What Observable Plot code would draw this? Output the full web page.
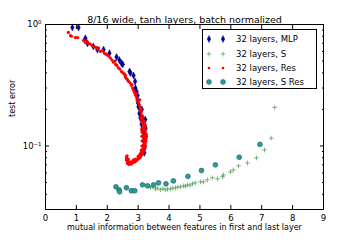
<!DOCTYPE html>
<html><head><meta charset="utf-8">
<script src="https://cdn.jsdelivr.net/npm/d3@7"></script>
<script src="https://cdn.jsdelivr.net/npm/@observablehq/plot@0.6"></script>
<style>
body{margin:0;background:#fff;font-family:"DejaVu Sans",sans-serif;}
#wrap{position:relative;width:360px;height:240px;}
#legend{position:absolute;left:202px;top:29px;width:115px;height:60px;border:1px solid #000;background:#fff;font-size:8.5px;box-sizing:border-box;}
.row{position:absolute;left:0;height:12px;display:flex;align-items:center;}
.row svg{display:block}
.row span{margin-left:4px;white-space:nowrap;color:#000}
</style>
</head><body><div id="wrap"><div id="chart"></div><div id="legend"></div></div>
<script>
const title = "8/16 wide, tanh layers, batch normalized";
const xLabel = "mutual information between features in first and last layer";
const yLabel = "test error";
const seriesNames = ["32 layers, MLP", "32 layers, S", "32 layers, Res", "32 layers, S Res"];
const xTicks = [0, 1, 2, 3, 4, 5, 6, 7, 8, 9];
const yMajor = [0.1, 1];
const yMinor = [0.03, 0.04, 0.05, 0.06, 0.07, 0.08, 0.09, 0.2, 0.3, 0.4, 0.5, 0.6, 0.7, 0.8, 0.9];
const yTickLabels = ["10⁻¹", "10⁰"];

const mlpX = [0.87,1.07,1.29,1.36,1.55,1.68,1.88,2.07,2.30,2.39,2.46,2.50,2.72,2.75,2.85,2.90,2.91,2.95,2.98,2.98,3.01,3.04,3.07,3.11,3.14,3.17,3.20,3.20,3.20,3.12,3.16,3.19,3.22,3.22,3.00,3.08,3.24,3.25,3.23];
const mlpY = [0.945,0.945,0.77,0.70,0.66,0.62,0.62,0.58,0.54,0.51,0.48,0.47,0.41,0.40,0.38,0.34,0.30,0.28,0.26,0.238,0.21,0.186,0.17,0.151,0.135,0.121,0.108,0.096,0.088,0.2,0.16,0.13,0.115,0.1,0.225,0.18,0.14,0.12,0.165];

const sX = [3.35,3.40,3.48,3.56,3.62,3.72,3.80,3.88,3.95,4.05,4.12,4.21,4.28,4.37,4.47,4.53,4.60,4.68,4.76,4.85,5.02,5.11,5.24,5.40,5.57,5.73,5.76,5.99,6.08,6.25,6.54,6.83,7.09,7.31,7.42];
const sY = [0.047,0.0453,0.046,0.0444,0.045,0.0436,0.0445,0.0436,0.0442,0.0444,0.045,0.0453,0.0458,0.0461,0.047,0.0466,0.0479,0.0475,0.0488,0.0497,0.0507,0.0507,0.0526,0.0547,0.0537,0.0557,0.0578,0.0612,0.0636,0.0686,0.0726,0.0798,0.0927,0.116,0.208];

const resX = [0.74,0.81,0.84,0.97,1.04,1.23,1.29,1.39,1.52,1.62,1.72,1.78,1.91,2.01,2.10,2.20,2.27,2.36,2.46,2.56,2.62,2.69,2.78,2.85,2.91,2.98,3.04,3.07,3.11,3.14,3.17,3.17,3.17,3.17,3.17,3.14,3.11,3.04,2.98,2.91,2.82,2.75,2.69,2.62,2.62,
 1.33,1.45,1.57,1.85,1.96,2.05,2.15,2.31,2.41,2.51,2.59,2.66,2.74,2.82,2.88,2.95,3.01,3.06,3.09,3.13,3.16,3.20,3.22,3.21,3.22,3.20,3.18,3.13,3.08,3.02,2.95,2.87,2.78,2.71,2.66,2.63,2.65,2.70,2.85,3.00,3.10,3.12,3.13,3.12,3.13,3.12,3.10,3.08,3.23,3.24,3.25,3.24,2.93,2.80,2.58,2.25,1.68,
 3.05,3.10,3.15,3.19,3.21,3.23,3.26,3.25,3.22,3.19,3.15,3.09,3.03,2.96,2.89,2.81,2.73,2.67,2.64,2.68,2.76,2.84,2.92,3.06,3.14,3.18,3.20];
const resY = [0.86,0.81,0.80,0.78,0.78,0.74,0.71,0.70,0.67,0.65,0.64,0.60,0.58,0.56,0.53,0.49,0.47,0.44,0.41,0.39,0.36,0.34,0.316,0.288,0.262,0.238,0.217,0.197,0.18,0.163,0.149,0.135,0.123,0.112,0.102,0.093,0.088,0.083,0.078,0.075,0.0726,0.0726,0.074,0.0767,0.081,
 0.73,0.69,0.66,0.61,0.57,0.55,0.51,0.46,0.43,0.40,0.38,0.35,0.33,0.30,0.275,0.25,0.228,0.207,0.19,0.172,0.156,0.142,0.13,0.118,0.107,0.097,0.09,0.085,0.081,0.079,0.076,0.074,0.071,0.072,0.075,0.079,0.072,0.0705,0.077,0.082,0.092,0.1,0.11,0.12,0.13,0.14,0.155,0.17,0.15,0.12,0.11,0.1,0.27,0.32,0.37,0.5,0.63,
 0.24,0.2,0.175,0.16,0.145,0.135,0.125,0.115,0.105,0.095,0.088,0.084,0.08,0.077,0.074,0.073,0.073,0.077,0.083,0.078,0.074,0.075,0.078,0.086,0.094,0.102,0.112];

const sresX = [2.28,2.38,2.40,2.62,2.78,2.89,3.14,3.30,3.50,3.66,3.90,4.14,4.61,5.05,5.50,6.27,6.94];
const sresY = [0.0461,0.0436,0.042,0.0453,0.0428,0.0428,0.0479,0.047,0.0479,0.0497,0.0488,0.0516,0.0562,0.0628,0.0699,0.0808,0.103];

const colors = {mlp: "#0000b0", s: "#5aa55a", res: "#ff0000", sres: "#2a9d9d"};

const toRows = (xs, ys) => xs.map((x, i) => ({x, y: ys[i]}));
const mlp = toRows(mlpX, mlpY), s = toRows(sX, sY), res = toRows(resX, resY), sres = toRows(sresX, sresY);

const thinDiamond = {draw(c, size) { const r = Math.sqrt(size / Math.PI); c.moveTo(0, -r); c.lineTo(r * 0.5, 0); c.lineTo(0, r); c.lineTo(-r * 0.5, 0); c.closePath(); }};
const plusSym = {draw(c, size) { const r = Math.sqrt(size / Math.PI); c.moveTo(-r, 0); c.lineTo(r, 0); c.moveTo(0, -r); c.lineTo(0, r); }};

const chart = Plot.plot({
  width: 360, height: 240,
  marginTop: 24, marginBottom: 31, marginLeft: 45, marginRight: 37,
  style: {fontFamily: "DejaVu Sans", fontSize: "8px", color: "#000", background: "#fff"},
  x: {domain: [0, 9], label: null},
  y: {type: "log", domain: [0.03, 1], label: null},
  marks: [
    Plot.dot(s, {x: "x", y: "y", symbol: plusSym, r: 2.4, stroke: colors.s, strokeWidth: 0.8, fill: "none"}),
    Plot.dot(sres, {x: "x", y: "y", r: 2.4, fill: colors.sres, stroke: "#145555", strokeWidth: 0.6}),
    Plot.dot(mlp, {x: "x", y: "y", symbol: thinDiamond, r: 3.6, fill: colors.mlp, stroke: "#000040", strokeWidth: 0.4}),
    Plot.dot(res, {x: "x", y: "y", r: 1.6, fill: colors.res, stroke: "none"}),
    Plot.frame({stroke: "#000", strokeWidth: 1}),
    Plot.axisX(xTicks, {anchor: "bottom", tickSize: 0, tickPadding: 5, fontSize: 8.5, label: null}),
    Plot.axisX(xTicks, {anchor: "bottom", tickSize: -4, tickFormat: () => "", label: null}),
    Plot.axisX(xTicks, {anchor: "top", tickSize: -4, tickFormat: () => "", label: null}),
    Plot.axisY(yMajor, {anchor: "left", tickSize: 0, tickPadding: 4, fontSize: 8.5, tickFormat: (d) => yTickLabels[yMajor.indexOf(d)], label: null}),
    Plot.axisY(yMajor, {anchor: "left", tickSize: -4, tickFormat: () => "", label: null}),
    Plot.axisY(yMajor, {anchor: "right", tickSize: -4, tickFormat: () => "", label: null}),
    Plot.axisY(yMinor, {anchor: "left", tickSize: -2, tickFormat: () => "", label: null}),
    Plot.axisY(yMinor, {anchor: "right", tickSize: -2, tickFormat: () => "", label: null}),
    Plot.text([title], {frameAnchor: "top", dy: -8, fontSize: 9.5, text: (d) => d}),
    Plot.text([xLabel], {frameAnchor: "bottom", dy: 20, fontSize: 8, text: (d) => d}),
    Plot.text([yLabel], {frameAnchor: "left", dx: -33, rotate: -90, fontSize: 8, text: (d) => d})
  ]
});
document.getElementById("chart").appendChild(chart);

// legend
const legendMarkers = [
  `<path d="M0,-3.6L1.8,0L0,3.6L-1.8,0Z" fill="${colors.mlp}" stroke="#000040" stroke-width="0.4"/>`,
  `<path d="M-2.4,0L2.4,0M0,-2.4L0,2.4" stroke="${colors.s}" stroke-width="0.8" fill="none"/>`,
  `<circle r="1.3" fill="${colors.res}"/>`,
  `<circle r="2.4" fill="${colors.sres}" stroke="#145555" stroke-width="0.6"/>`
];
const rowTops = [2.7, 17.7, 31.7, 46];
const leg = document.getElementById("legend");
seriesNames.forEach((name, i) => {
  const row = document.createElement("div");
  row.className = "row";
  row.style.top = rowTops[i] + "px";
  row.innerHTML = `<svg width="29" height="12"><g transform="translate(6,6)">${legendMarkers[i]}</g><g transform="translate(20,6)">${legendMarkers[i]}</g></svg><span>${name}</span>`;
  leg.appendChild(row);
});
</script>
</body></html>
